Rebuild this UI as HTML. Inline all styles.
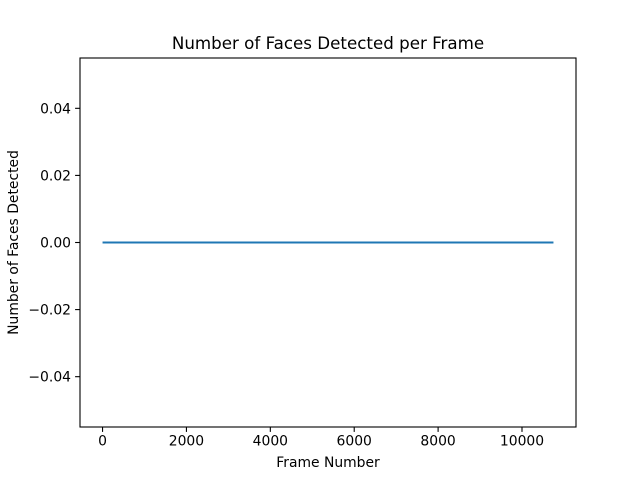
<!DOCTYPE html>
<html><head><meta charset="utf-8"><style>
body{margin:0;background:#fff;}
svg text{font-family:"DejaVu Sans","Liberation Sans",sans-serif;fill:#000;}
</style></head><body>
<svg id="chart" width="640" height="480">
<rect width="640" height="480" fill="#fff"/>
<g id="ticks"></g>
<path id="line" fill="none" stroke="#1f77b4" stroke-width="2.08"/>
<rect x="80" y="58" width="496" height="369" fill="none" stroke="#000" stroke-width="1.1"/>
<text x="328" y="49" font-size="16.7" text-anchor="middle">Number of Faces Detected per Frame</text>
<text x="328" y="467" font-size="13.9" text-anchor="middle">Frame Number</text>
<text transform="translate(18,242.5) rotate(-90)" font-size="13.9" text-anchor="middle">Number of Faces Detected</text>
</svg>
<script>
const frames = [0, 10750];
const faceCounts = [0, 0];
const xTicks = [0, 2000, 4000, 6000, 8000, 10000];
const yTicks = [-0.04, -0.02, 0.00, 0.02, 0.04];
const yTickLabels = ["\u22120.04", "\u22120.02", "0.00", "0.02", "0.04"];

const L = 80, R = 576, T = 58, B = 427;
const xMin = Math.min(...frames), xMax = Math.max(...frames), pad = (xMax - xMin) * 0.05;
const xs = v => L + (v - (xMin - pad)) / ((xMax + pad) - (xMin - pad)) * (R - L);
const ys = v => B - (v - (-0.055)) / 0.11 * (B - T);
const NS = "http://www.w3.org/2000/svg";
const g = document.getElementById('ticks');
function mk(tag, attrs){const e=document.createElementNS(NS,tag);for(const k in attrs)e.setAttribute(k,attrs[k]);return e;}
xTicks.forEach(t=>{
  const x=xs(t);
  const l=mk('line',{x1:x,x2:x,y1:B,y2:B+4.9,stroke:'#000','stroke-width':1.1});
  
  
  g.appendChild(l);
  const tx=mk('text',{x:x,y:B+18.5,'font-size':13.9,'text-anchor':'middle'});
  tx.textContent=String(t);
  
  
  g.appendChild(tx);
});
yTicks.forEach((t,i)=>{
  const y=ys(t);
  const l=mk('line',{x1:L-4.9,x2:L,y1:y,y2:y,stroke:'#000','stroke-width':1.1});
  
  
  g.appendChild(l);
  const tx=mk('text',{x:L-9,y:y+5,'font-size':13.9,'text-anchor':'end'});
  tx.textContent=yTickLabels[i];
  
  
  g.appendChild(tx);
});
document.getElementById('line').setAttribute('d', frames.map((f,i)=>(i?'L':'M')+xs(f)+','+ys(faceCounts[i])).join(' '));
</script>
</body></html>
